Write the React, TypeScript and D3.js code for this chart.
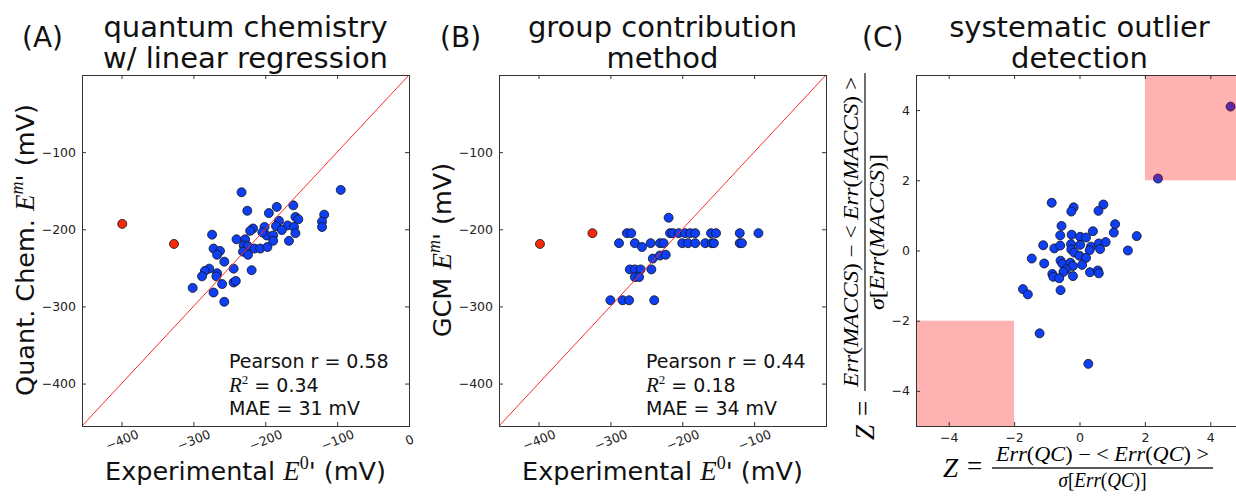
import React, { useEffect, useRef } from "react";
import * as d3 from "d3";

// (A) quantum chemistry w/ linear regression, mV
const qcExperimental = [-233, -95, -225, -195, -184, -161, -158, -154, -118, -121, -121, -181, -169, -160, -158, -167, -185, -177, -201, -198, -189, -189, -217, -221, -204, -240, -228, -230, -224, -215, -207, -197, -231, -224, -274, -272, -263, -267, -257, -278, -284, -288, -267, -268, -244, -219, -260, -244, -241, -301, -272, -257];
const qcPredicted = [-152, -149, -176, -179, -171, -169, -184, -187, -181, -190, -197, -189, -195, -197, -205, -215, -196, -201, -197, -208, -208, -215, -199, -202, -204, -213, -213, -221, -222, -225, -225, -223, -229, -233, -207, -225, -228, -233, -242, -251, -254, -261, -257, -261, -251, -253, -271, -269, -267, -276, -282, -294];
const qcOutlierExperimental = [-399, -327];
const qcOutlierPredicted = [-193, -219];

// (B) group contribution method, mV
const gcmExperimental = [-277, -271, -217, -213, -205, -196, -189, -182, -160, -153, -120, -94, -288, -266, -244, -231, -226, -200, -192, -182, -168, -159, -156, -120, -117, -256, -219, -241, -231, -223, -273, -266, -258, -243, -266, -260, -300, -283, -274, -239];
const gcmPredicted = [-205, -205, -205, -205, -205, -205, -205, -205, -205, -205, -205, -205, -218, -218, -218, -218, -218, -218, -218, -218, -218, -218, -218, -218, -218, -223, -185, -238, -234, -233, -252, -252, -252, -252, -262, -262, -292, -292, -292, -292];
const gcmOutlierExperimental = [-398, -325];
const gcmOutlierPredicted = [-219, -205];

// (C) z-scores of the errors
const zQC = [-0.85, -0.18, -0.25, 0.73, 0.58, 1.09, 1.05, 1.75, 1.48, -0.55, -0.59, -0.24, 0.02, 0.2, 0.41, -1.11, -0.77, -0.59, -0.26, 0.02, 0.35, 0.59, 0.8, 0.63, 0.31, -0.25, -0.16, 0.0, 0.2, -1.46, -1.08, -0.58, -0.52, -0.28, -0.2, 0.08, -0.41, -0.49, -0.83, -0.8, -0.62, -0.2, 0.32, 0.56, 0.59, -0.58, -1.73, -1.58, -1.22, 0.27];
const zMACCS = [1.36, 1.23, 1.11, 1.31, 1.13, 0.75, 0.51, 0.41, 0.0, 0.7, 0.43, 0.45, 0.39, 0.37, 0.55, 0.15, 0.06, 0.14, 0.18, 0.16, 0.11, 0.2, 0.24, 0.04, 0.01, 0.03, -0.06, -0.15, -0.21, -0.23, -0.37, -0.29, -0.38, -0.35, -0.44, -0.41, -0.54, -0.61, -0.67, -0.75, -0.79, -0.73, -0.62, -0.57, -0.65, -1.13, -1.1, -1.25, -2.36, -3.23];
const zQCFlagged = [2.4, 4.62];
const zMACCSFlagged = [2.05, 4.1];
const zThreshold = 2;

const panelLetters = ["(A)", "(B)", "(C)"];
const panelTitles = [
  ["quantum chemistry", "w/ linear regression"],
  ["group contribution", "method"],
  ["systematic outlier", "detection"],
];
const yLabelPrefix = ["Quant. Chem. ", "GCM "];
const pearsonR = ["0.58", "0.44"];
const rSquared = ["0.34", "0.18"];
const maeValues = ["31", "34"];
const potentialTicksA = [-400, -300, -200, -100, 0];
const potentialTicksB = [-400, -300, -200, -100];
const potentialTicksY = [-100, -200, -300, -400];
const zTicks = [-4, -2, 0, 2, 4];

const SANS = "'DejaVu Sans', sans-serif";
const SERIF = "'Liberation Serif', 'DejaVu Serif', serif";
const BLUE = "#0f3ff5";
const RED = "#f52a0a";
const FRAME = "#333";

const panels = [
  { left: 82, right: 409, xTicks: potentialTicksA, yTicks: potentialTicksY, dom: [-455, 0] },
  { left: 499, right: 826, xTicks: potentialTicksB, yTicks: potentialTicksY, dom: [-455, 0] },
  { left: 916, right: 1243, xTicks: zTicks, yTicks: zTicks, dom: [-5, 5] },
];
const TOP = 75;
const BOTTOM = 426;

function axes(svg, p, x, y, rotateX) {
  const fmt = d3.format("d");
  const style = (g) => {
    g.attr("font-family", null).attr("font-size", 12.5).attr("color", FRAME);
    g.select(".domain").remove();
    g.selectAll("text").attr("fill", "#222");
  };
  const bottom = svg
    .append("g")
    .attr("transform", `translate(0,${BOTTOM})`)
    .call(d3.axisBottom(x).tickValues(p.xTicks).tickSize(-4).tickPadding(7).tickFormat(fmt))
    .call(style);
  if (rotateX) {
    bottom
      .selectAll("text")
      .attr("y", 0)
      .attr("dy", "0.35em")
      .attr("transform", "translate(0,14) rotate(-22)");
  }
  svg
    .append("g")
    .attr("transform", `translate(0,${TOP})`)
    .call(d3.axisTop(x).tickValues(p.xTicks).tickSize(-4).tickFormat(() => ""))
    .call(style);
  svg
    .append("g")
    .attr("transform", `translate(${p.left},0)`)
    .call(d3.axisLeft(y).tickValues(p.yTicks).tickSize(-4).tickPadding(6).tickFormat(fmt))
    .call(style);
  svg
    .append("g")
    .attr("transform", `translate(${p.right},0)`)
    .call(d3.axisRight(y).tickValues(p.yTicks).tickSize(-4).tickFormat(() => ""))
    .call(style);
  svg
    .append("rect")
    .attr("x", p.left + 0.5)
    .attr("y", TOP + 0.5)
    .attr("width", p.right - p.left)
    .attr("height", BOTTOM - TOP)
    .attr("fill", "none")
    .attr("stroke", FRAME)
    .attr("stroke-width", 1);
}

function dots(svg, xs, ys, x, y, color) {
  svg
    .append("g")
    .selectAll("circle")
    .data(xs)
    .enter()
    .append("circle")
    .attr("cx", (d) => x(d))
    .attr("cy", (d, i) => y(ys[i]))
    .attr("r", 4.5)
    .attr("fill", color)
    .attr("stroke", "#111")
    .attr("stroke-width", 0.8);
}

function mathE(t, sup, supItalic) {
  t.append("tspan").attr("font-family", SERIF).attr("font-style", "italic").attr("font-size", 27).text("E");
  t.append("tspan")
    .attr("font-family", SERIF)
    .attr("font-style", supItalic ? "italic" : "normal")
    .attr("font-size", 18)
    .attr("dy", -11)
    .text(sup);
  t.append("tspan").attr("dy", 11).text("'");
  t.append("tspan").text("\u00a0(mV)");
}

// Z = (num) / (den), drawn horizontally from the local origin (line at y = 0)
function zFraction(g, num, den, lineLen, numLen, denLen) {
  g.append("text")
    .attr("x", 0)
    .attr("y", 9)
    .attr("font-family", SERIF)
    .attr("font-style", "italic")
    .attr("font-size", 27)
    .text("Z");
  g.append("text").attr("x", 24).attr("y", 7).attr("font-family", SERIF).attr("font-size", 27).text("=");
  g.append("line")
    .attr("x1", 49)
    .attr("x2", 49 + lineLen)
    .attr("y1", 0)
    .attr("y2", 0)
    .attr("stroke", "#222")
    .attr("stroke-width", 1.3);
  const cx = 49 + lineLen / 2;
  const n = g
    .append("text")
    .attr("x", cx)
    .attr("y", -7)
    .attr("text-anchor", "middle")
    .attr("font-family", SERIF)
    .attr("font-size", 20)
    .attr("textLength", numLen)
    .attr("lengthAdjust", "spacingAndGlyphs");
  const part = (s, italic) =>
    n.append("tspan").attr("font-style", italic ? "italic" : "normal").text(s);
  part("Err", true);
  part("(", false);
  part(num, true);
  part(")\u00a0\u2212\u00a0<\u00a0", false);
  part("Err", true);
  part("(", false);
  part(num, true);
  part(")\u00a0>", false);
  const d = g
    .append("text")
    .attr("x", cx)
    .attr("y", 19)
    .attr("text-anchor", "middle")
    .attr("font-family", SERIF)
    .attr("font-size", 20)
    .attr("textLength", denLen)
    .attr("lengthAdjust", "spacingAndGlyphs");
  d.append("tspan").attr("font-style", "italic").text("\u03c3");
  d.append("tspan").text("[");
  d.append("tspan").attr("font-style", "italic").text("Err");
  d.append("tspan").text("(");
  d.append("tspan").attr("font-style", "italic").text(den);
  d.append("tspan").text(")]");
}

export default function App() {
  const ref = useRef(null);

  useEffect(() => {
    const svg = d3.select(ref.current);
    svg.selectAll("*").remove();
    svg.attr("font-family", SANS);

    panels.forEach((p, i) => {
      const x = d3.scaleLinear().domain(p.dom).range([p.left, p.right]);
      const y = d3.scaleLinear().domain(p.dom).range([BOTTOM, TOP]);
      const cx = (p.left + p.right) / 2;

      if (i < 2) {
        const xs = i === 0 ? qcExperimental : gcmExperimental;
        const ys = i === 0 ? qcPredicted : gcmPredicted;
        dots(svg, xs, ys, x, y, BLUE);
        dots(
          svg,
          i === 0 ? qcOutlierExperimental : gcmOutlierExperimental,
          i === 0 ? qcOutlierPredicted : gcmOutlierPredicted,
          x,
          y,
          RED
        );
        svg
          .append("line")
          .attr("x1", x(p.dom[0]))
          .attr("y1", y(p.dom[0]))
          .attr("x2", x(p.dom[1]))
          .attr("y2", y(p.dom[1]))
          .attr("stroke", "#ff2a2a")
          .attr("stroke-width", 1);
        axes(svg, p, x, y, true);

        const st = svg.append("g").attr("font-size", 19).attr("fill", "#111");
        const sx = p.left + 147;
        st.append("text").attr("x", sx).attr("y", 368).text(`Pearson r = ${pearsonR[i]}`);
        const r2 = st.append("text").attr("x", sx).attr("y", 392);
        r2.append("tspan").attr("font-family", SERIF).attr("font-style", "italic").attr("font-size", 21).text("R");
        r2.append("tspan").attr("font-family", SERIF).attr("font-size", 13).attr("dy", -8).text("2");
        r2.append("tspan").attr("dy", 8).text(`\u00a0= ${rSquared[i]}`);
        st.append("text").attr("x", sx).attr("y", 415).text(`MAE = ${maeValues[i]} mV`);

        const yl = svg
          .append("text")
          .attr("transform", `translate(${p.left - 48},250) rotate(-90)`)
          .attr("text-anchor", "middle")
          .attr("font-size", 25.5)
          .attr("fill", "#111");
        yl.append("tspan").text(yLabelPrefix[i]);
        mathE(yl, "m", true);

        const xl = svg
          .append("text")
          .attr("x", cx)
          .attr("y", 480)
          .attr("text-anchor", "middle")
          .attr("font-size", 25.5)
          .attr("fill", "#111");
        xl.append("tspan").text("Experimental ");
        mathE(xl, "0", false);
      } else {
        dots(svg, zQC, zMACCS, x, y, BLUE);
        dots(svg, zQCFlagged, zMACCSFlagged, x, y, BLUE);
        svg
          .append("rect")
          .attr("x", x(zThreshold))
          .attr("y", y(p.dom[1]))
          .attr("width", x(p.dom[1]) - x(zThreshold))
          .attr("height", y(zThreshold) - y(p.dom[1]))
          .attr("fill", "red")
          .attr("opacity", 0.3);
        svg
          .append("rect")
          .attr("x", x(p.dom[0]))
          .attr("y", y(-zThreshold))
          .attr("width", x(-zThreshold) - x(p.dom[0]))
          .attr("height", y(p.dom[0]) - y(-zThreshold))
          .attr("fill", "red")
          .attr("opacity", 0.3);
        axes(svg, p, x, y, false);

        zFraction(svg.append("g").attr("transform", "translate(943,468)"), "QC", "QC", 221, 213, 88);
        zFraction(
          svg.append("g").attr("transform", "translate(865,440) rotate(-90)"),
          "MACCS",
          "MACCS",
          318,
          310,
          156
        );
      }

      const title = svg.append("g").attr("font-size", 29).attr("fill", "#111").attr("text-anchor", "middle");
      title.append("text").attr("x", cx).attr("y", 37).text(panelTitles[i][0]);
      title.append("text").attr("x", cx).attr("y", 68).text(panelTitles[i][1]);
      svg
        .append("text")
        .attr("x", [22, 440, 862][i])
        .attr("y", 47)
        .attr("font-size", 28)
        .attr("fill", "#111")
        .text(panelLetters[i]);
    });
  }, []);

  return (
    <svg
      ref={ref}
      width={1236}
      height={498}
      style={{ position: "absolute", left: 0, top: 0, background: "#fff" }}
    />
  );
}
